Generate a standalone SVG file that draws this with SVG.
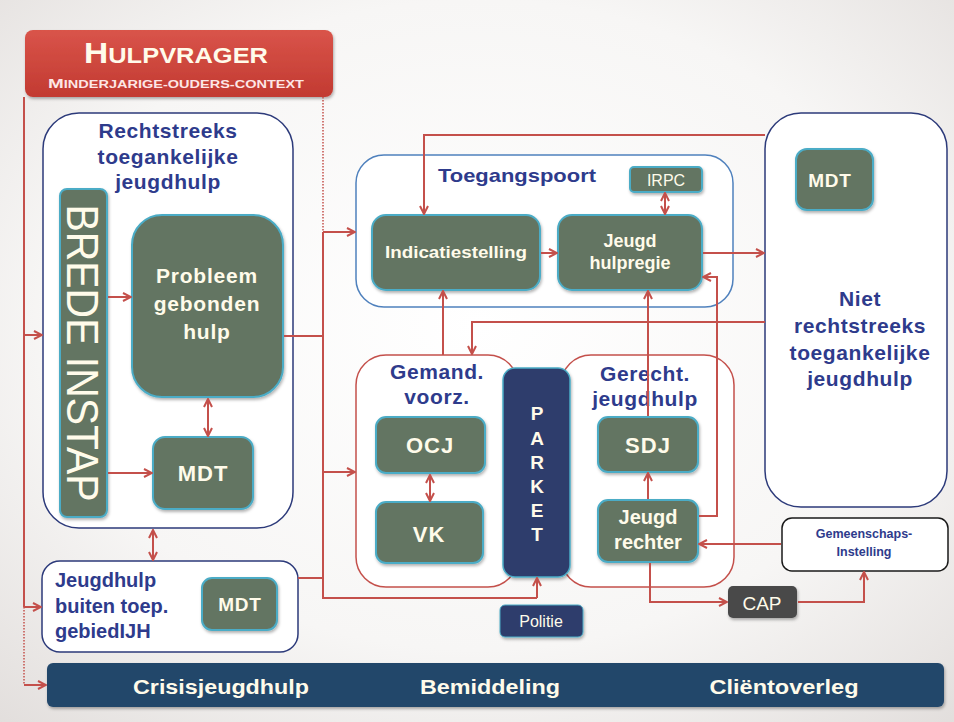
<svg xmlns="http://www.w3.org/2000/svg" width="954" height="722" viewBox="0 0 954 722">
<defs>
<radialGradient id="bg" cx="0.5" cy="0.45" r="0.75">
<stop offset="0" stop-color="#ffffff"/>
<stop offset="0.6" stop-color="#f7f6f5"/>
<stop offset="1" stop-color="#e2dedc"/>
</radialGradient>
<linearGradient id="red" x1="0" y1="0" x2="0" y2="1">
<stop offset="0" stop-color="#d9544a"/>
<stop offset="1" stop-color="#c23a31"/>
</linearGradient>
<filter id="sh" x="-10%" y="-10%" width="130%" height="130%">
<feDropShadow dx="1" dy="2" stdDeviation="1.5" flood-color="#000" flood-opacity="0.3"/>
</filter>
<marker id="ah" viewBox="0 0 10 10" refX="9" refY="5" markerWidth="10" markerHeight="10" markerUnits="userSpaceOnUse" orient="auto-start-reverse">
<path d="M1,1 L9,5 L1,9" fill="none" stroke="#c4504b" stroke-width="2"/>
</marker>
<style>
.c{fill:none;stroke:#c4504b;stroke-width:2}
.d{fill:none;stroke:#c4504b;stroke-width:1.5;stroke-dasharray:1.5 1.5}
.a{marker-end:url(#ah)}
.b{marker-start:url(#ah);marker-end:url(#ah)}
.g{fill:#637462;stroke:#4bacc6;stroke-width:2;filter:url(#sh)}
.w{fill:#ffffff;stroke:#2c3a7a;stroke-width:1.5}
.rb{fill:#ffffff;stroke:#c4504b;stroke-width:1.5}
.t{font-family:"Liberation Sans",Arial,sans-serif;font-weight:bold;text-anchor:middle}
.n{font-weight:normal}
.wt{fill:#fffbea}
.nt{fill:#2e3b8c}
.h{font-size:21px;letter-spacing:0.6px}
.m{font-size:22px;letter-spacing:1px}
</style>
</defs>
<rect width="954" height="722" fill="url(#bg)"/>

<g id="hulpvrager">
<rect x="25" y="30" width="308" height="67" rx="8" fill="url(#red)" filter="url(#sh)"/>
<text class="t wt" x="176" y="63" textLength="184" lengthAdjust="spacingAndGlyphs"><tspan font-size="29">H</tspan><tspan font-size="22">ULPVRAGER</tspan></text>
<text class="t" x="176" y="88" fill="#fde6e6" textLength="256" lengthAdjust="spacingAndGlyphs"><tspan font-size="13">M</tspan><tspan font-size="10">INDERJARIGE-OUDERS-CONTEXT</tspan></text>
</g>

<g id="rechtstreeks">
<rect class="w" x="43" y="113" width="250" height="415" rx="36"/>
<text class="t nt h" x="168" y="138">Rechtstreeks</text>
<text class="t nt h" x="168" y="164">toegankelijke</text>
<text class="t nt h" x="168" y="189">jeugdhulp</text>
</g>

<g id="brede-instap">
<rect class="g" x="60" y="189" width="47" height="328" rx="7"/>
<text transform="translate(83,353) rotate(90)" x="0" y="16" font-family="Liberation Sans,Arial,sans-serif" font-size="44" text-anchor="middle" fill="#fffbea" textLength="297" lengthAdjust="spacingAndGlyphs">BREDE INSTAP</text>
</g>

<g id="probleem">
<rect class="g" x="132" y="215" width="151" height="182" rx="30"/>
<text class="t wt" x="207" y="283" font-size="21" letter-spacing="0.8">Probleem</text>
<text class="t wt" x="207" y="311" font-size="21" letter-spacing="0.8">gebonden</text>
<text class="t wt" x="207" y="339" font-size="21" letter-spacing="0.8">hulp</text>
</g>

<g id="mdt-left">
<rect class="g" x="153" y="437" width="100" height="72" rx="12"/>
<text class="t wt m" x="203" y="481">MDT</text>
</g>

<g id="jeugdhulp-buiten">
<rect class="w" x="42" y="561" width="256" height="91" rx="18"/>
<text class="nt" x="55" y="587" font-family="Liberation Sans,Arial,sans-serif" font-weight="bold" font-size="20">Jeugdhulp</text>
<text class="nt" x="55" y="613" font-family="Liberation Sans,Arial,sans-serif" font-weight="bold" font-size="20">buiten toep.</text>
<text class="nt" x="55" y="638" font-family="Liberation Sans,Arial,sans-serif" font-weight="bold" font-size="20">gebiedIJH</text>
</g>

<g id="mdt-buiten">
<rect class="g" x="202" y="578" width="75" height="52" rx="10"/>
<text class="t wt" x="240" y="611" font-size="19" letter-spacing="0.8">MDT</text>
</g>

<g id="toegangspoort">
<rect x="356" y="155" width="377" height="152" rx="28" fill="#ffffff" stroke="#4f81bd" stroke-width="1.5"/>
<text class="nt" x="438" y="182" font-family="Liberation Sans,Arial,sans-serif" font-weight="bold" font-size="19" textLength="158" lengthAdjust="spacingAndGlyphs">Toegangspoort</text>
</g>

<g id="irpc">
<rect class="g" x="630" y="167" width="72" height="25" rx="4"/>
<text class="t n wt" x="666" y="186" font-size="16">IRPC</text>
</g>

<g id="indicatiestelling">
<rect class="g" x="372" y="215" width="168" height="75" rx="14"/>
<text class="t wt" x="456" y="258" font-size="17" textLength="142" lengthAdjust="spacingAndGlyphs">Indicatiestelling</text>
</g>

<g id="jeugdhulpregie">
<rect class="g" x="558" y="215" width="144" height="75" rx="14"/>
<text class="t wt" x="630" y="247" font-size="18">Jeugd</text>
<text class="t wt" x="630" y="269" font-size="18">hulpregie</text>
</g>

<g id="niet-rechtstreeks">
<rect class="w" x="765" y="113" width="182" height="394" rx="36"/>
<text class="t nt h" x="860" y="306">Niet</text>
<text class="t nt h" x="860" y="333">rechtstreeks</text>
<text class="t nt h" x="860" y="360">toegankelijke</text>
<text class="t nt h" x="860" y="386">jeugdhulp</text>
</g>

<g id="mdt-niet">
<rect class="g" x="796" y="149" width="77" height="61" rx="11"/>
<text class="t wt" x="830" y="187" font-size="19" letter-spacing="0.8">MDT</text>
</g>

<g id="gemand">
<rect class="rb" x="356" y="355" width="162" height="232" rx="30"/>
<text class="t nt h" x="437" y="379">Gemand.</text>
<text class="t nt h" x="437" y="404">voorz.</text>
</g>

<g id="ocj">
<rect class="g" x="376" y="417" width="109" height="56" rx="10"/>
<text class="t wt m" x="430" y="453">OCJ</text>
</g>
<g id="vk">
<rect class="g" x="376" y="502" width="107" height="61" rx="10"/>
<text class="t wt m" x="429" y="542">VK</text>
</g>

<g id="gerecht">
<rect class="rb" x="561" y="355" width="173" height="232" rx="30"/>
<text class="t nt h" x="645" y="381">Gerecht.</text>
<text class="t nt h" x="645" y="406">jeugdhulp</text>
</g>

<g id="sdj">
<rect class="g" x="598" y="417" width="100" height="55" rx="10"/>
<text class="t wt m" x="648" y="453">SDJ</text>
</g>
<g id="jeugdrechter">
<rect class="g" x="598" y="500" width="100" height="62" rx="10"/>
<text class="t wt" x="648" y="524" font-size="20">Jeugd</text>
<text class="t wt" x="648" y="549" font-size="20">rechter</text>
</g>

<g id="parket">
<rect x="503" y="368" width="67" height="209" rx="12" fill="#2f3d6c" stroke="#4bacc6" stroke-width="1.5" filter="url(#sh)"/>
<text class="t wt" x="537" y="420" font-size="19">P</text>
<text class="t wt" x="537" y="445" font-size="19">A</text>
<text class="t wt" x="537" y="469" font-size="19">R</text>
<text class="t wt" x="537" y="493" font-size="19">K</text>
<text class="t wt" x="537" y="517" font-size="19">E</text>
<text class="t wt" x="537" y="541" font-size="19">T</text>
</g>

<g id="politie">
<rect x="500" y="605" width="83" height="32" rx="5" fill="#2f3d6c" stroke="#4bacc6" stroke-width="1" filter="url(#sh)"/>
<text class="t n wt" x="541" y="627" font-size="16">Politie</text>
</g>

<g id="gemeenschaps">
<rect x="782" y="518" width="166" height="53" rx="10" fill="#ffffff" stroke="#1a1a1a" stroke-width="1.5"/>
<text class="t nt" x="864" y="538" font-size="12.5">Gemeenschaps-</text>
<text class="t nt" x="864" y="556" font-size="12.5">Instelling</text>
</g>

<g id="cap">
<rect x="728" y="586" width="69" height="32" rx="5" fill="#4a4a4a" filter="url(#sh)"/>
<text class="t n wt" x="762" y="610" font-size="19">CAP</text>
</g>

<g id="bottom-bar">
<rect x="47" y="663" width="897" height="44" rx="6" fill="#23476b" filter="url(#sh)"/>
<text class="t wt" x="221" y="694" font-size="20" textLength="176" lengthAdjust="spacingAndGlyphs">Crisisjeugdhulp</text>
<text class="t wt" x="490" y="694" font-size="20" textLength="140" lengthAdjust="spacingAndGlyphs">Bemiddeling</text>
<text class="t wt" x="784" y="694" font-size="20" textLength="149" lengthAdjust="spacingAndGlyphs">Cliëntoverleg</text>
</g>

<g id="connectors">
<path class="c" d="M24,97 V607"/>
<path class="d" d="M24,607 V685"/>
<path class="c a" d="M24,335 H42"/>
<path class="c a" d="M24,607 H41"/>
<path class="c a" d="M24,685 H46"/>
<path class="d" d="M323,97 V232"/>
<path class="c" d="M323,232 V598 H537"/>
<path class="c a" d="M537,598 V578"/>
<path class="c a" d="M323,232 H355"/>
<path class="c" d="M284,336 H323"/>
<path class="c a" d="M323,472 H355"/>
<path class="c" d="M298,578 H323"/>
<path class="c a" d="M108,297 H131"/>
<path class="c a" d="M108,473 H152"/>
<path class="c b" d="M208,399 V436"/>
<path class="c b" d="M153,530 V560"/>
<path class="c a" d="M765,135 H424 V214"/>
<path class="c a" d="M541,253 H557"/>
<path class="c b" d="M665,193 V214"/>
<path class="c a" d="M703,253 H764"/>
<path class="c a" d="M443,355 V291"/>
<path class="c a" d="M765,322 H472 V354"/>
<path class="c a" d="M648,416 V291"/>
<path class="c a" d="M648,499 V473"/>
<path class="c b" d="M430,475 V501"/>
<path class="c a" d="M699,516 H717 V277 H703"/>
<path class="c a" d="M781,544 H699"/>
<path class="c a" d="M650,563 V602 H727"/>
<path class="c a" d="M798,602 H864 V572"/>
</g>
</svg>
